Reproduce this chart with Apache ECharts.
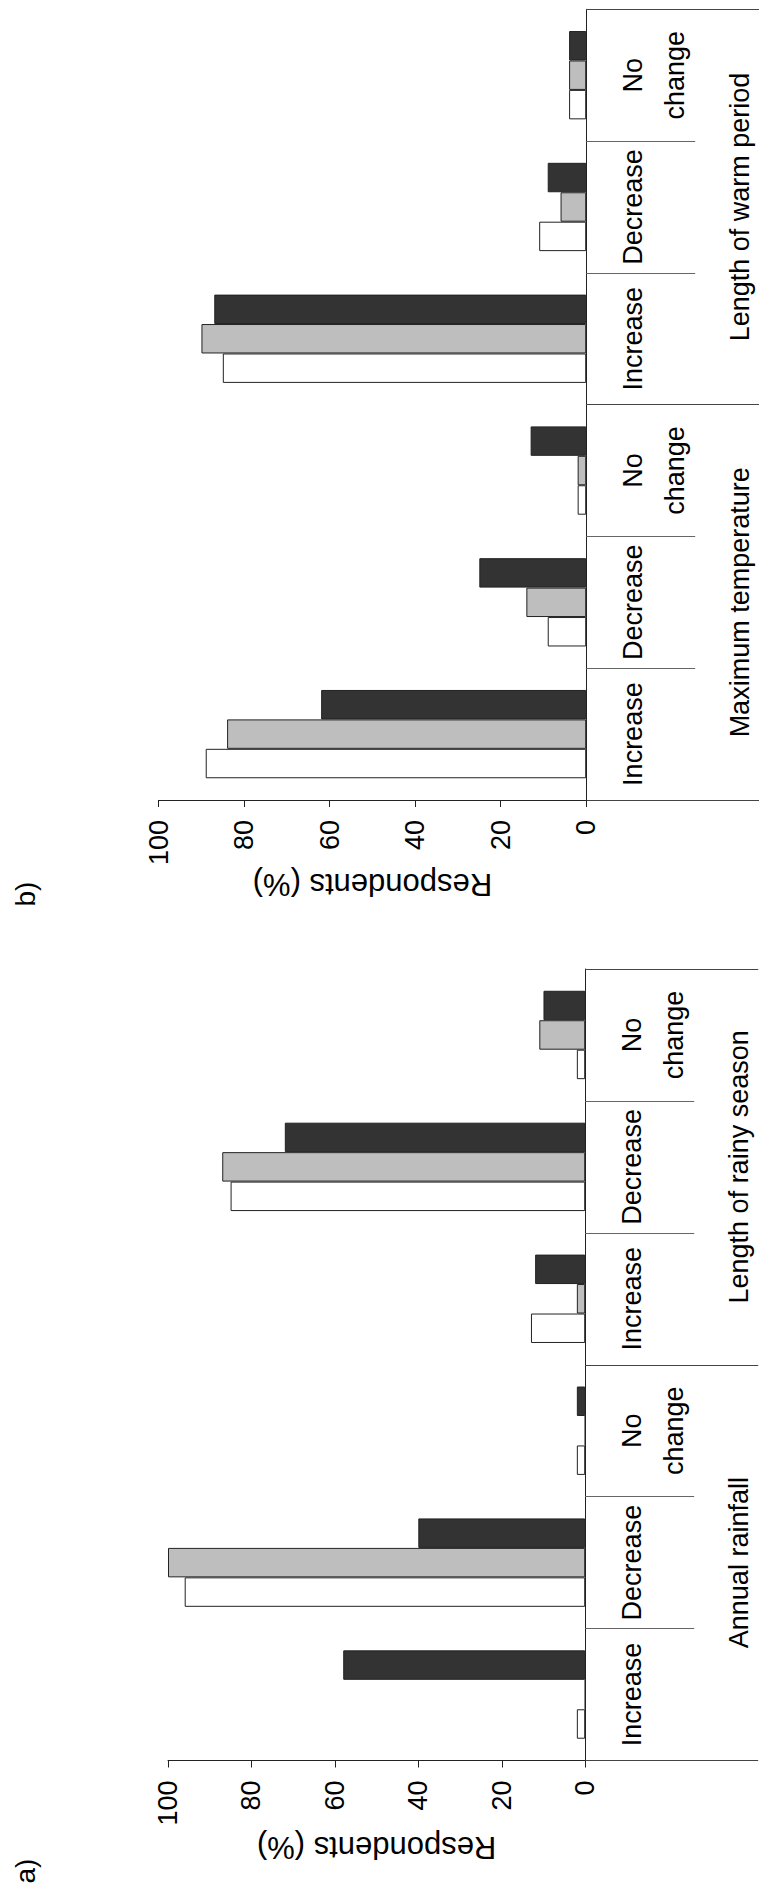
<!DOCTYPE html>
<html>
<head>
<meta charset="utf-8">
<script src="https://cdn.jsdelivr.net/npm/echarts@6/dist/echarts.min.js"></script>
<style>
html,body{margin:0;padding:0;background:#fff;}
#chart{width:759px;height:1892px;}
</style>
</head>
<body>
<div id="chart"></div>
<script>
// ---- data ----
const categories = ['Increase', 'Decrease', 'No\nchange', 'Increase', 'Decrease', 'No\nchange'];
const groupsA = ['Annual rainfall', 'Length of rainy season'];
const groupsB = ['Maximum temperature', 'Length of warm period'];
const seriesNames = ['Series 1', 'Series 2', 'Series 3'];
const seriesColors = ['#ffffff', '#bebebe', '#333333'];
// panel a) values (Increase, Decrease, No change | Increase, Decrease, No change)
const panelA1 = [2, 96, 2, 13, 85, 2];
const panelA2 = [0, 100, 0, 2, 87, 11];
const panelA3 = [58, 40, 2, 12, 72, 10];
// panel b)
const panelB1 = [89, 9, 2, 85, 11, 4];
const panelB2 = [84, 14, 2, 90, 6, 4];
const panelB3 = [62, 25, 13, 87, 9, 4];
const valueTicks = [0, 20, 40, 60, 80, 100];
const axisTitle = 'Respondents (%)';
const panelLabels = ['a)', 'b)'];

// ---- chart ----
const FONT = "'Liberation Sans', Arial, sans-serif";
const LINE = '#222';

const panels = [
  { groups: groupsB, data: [panelB1, panelB2, panelB3], left: 158.7, right: 759 - 586.2, top: 9.3, height: 790.7, nameGap: 57, label: panelLabels[1], labelY: 894 },
  { groups: groupsA, data: [panelA1, panelA2, panelA3], left: 168, right: 759 - 585.2, top: 969, height: 791.5, nameGap: 71, label: panelLabels[0], labelY: 1871 }
];

const grid = [], xAxis = [], yAxis = [], series = [], graphic = [];
panels.forEach((p, i) => {
  grid.push({ left: p.left, right: p.right, top: p.top, height: p.height });
  xAxis.push({
    gridIndex: i, type: 'value', min: valueTicks[0], max: valueTicks[valueTicks.length - 1],
    interval: valueTicks[1] - valueTicks[0], inverse: true, position: 'bottom',
    splitLine: { show: false },
    axisLine: { show: true, lineStyle: { color: LINE, width: 1 } },
    axisTick: { show: true, length: 7, lineStyle: { color: LINE, width: 1 } },
    axisLabel: { rotate: 90, margin: 20, fontSize: 27, fontFamily: FONT, color: '#000', showMinLabel: true, showMaxLabel: true },
    name: axisTitle, nameLocation: 'middle', nameGap: p.nameGap, nameRotate: 180,
    nameTextStyle: { fontSize: 31, fontFamily: FONT, color: '#000' }
  });
  yAxis.push({
    gridIndex: i, type: 'category', data: categories, position: 'right', boundaryGap: true,
    axisLine: { show: true, lineStyle: { color: LINE, width: 1 } },
    axisTick: { show: true, interval: 0, length: 109, lineStyle: { color: '#666', width: 1 } },
    axisLabel: { interval: 0, rotate: 90, margin: 26, align: 'center', verticalAlign: 'top', lineHeight: 42,
      fontSize: 27, fontFamily: FONT, color: '#000' }
  });
  yAxis.push({
    gridIndex: i, type: 'category', data: p.groups, position: 'right', boundaryGap: true,
    axisLine: { show: false },
    axisTick: { show: true, interval: 0, length: 173, lineStyle: { color: '#444', width: 1 } },
    axisLabel: { interval: 0, rotate: 90, margin: 139, align: 'center', verticalAlign: 'top', lineHeight: 30,
      fontSize: 27, fontFamily: FONT, color: '#000' }
  });
  // draw in reverse so that the first series sits lowest in each band
  for (let s = p.data.length - 1; s >= 0; s--) {
    series.push({
      type: 'bar', name: seriesNames[s], xAxisIndex: i, yAxisIndex: i * 2, data: p.data[s],
      barGap: '0%', barCategoryGap: '33%', animation: false,
      itemStyle: { color: seriesColors[s], borderColor: '#222', borderWidth: 1 }
    });
  }
  graphic.push({ type: 'text', x: 25, y: p.labelY, rotation: Math.PI / 2,
    style: { text: p.label, fontSize: 28, fontFamily: FONT, fill: '#000', align: 'center', verticalAlign: 'middle' } });
});

const chart = echarts.init(document.getElementById('chart'), null, { renderer: 'svg' });
chart.setOption({ animation: false, backgroundColor: '#fff', grid, xAxis, yAxis, series, graphic });
</script>
</body>
</html>
